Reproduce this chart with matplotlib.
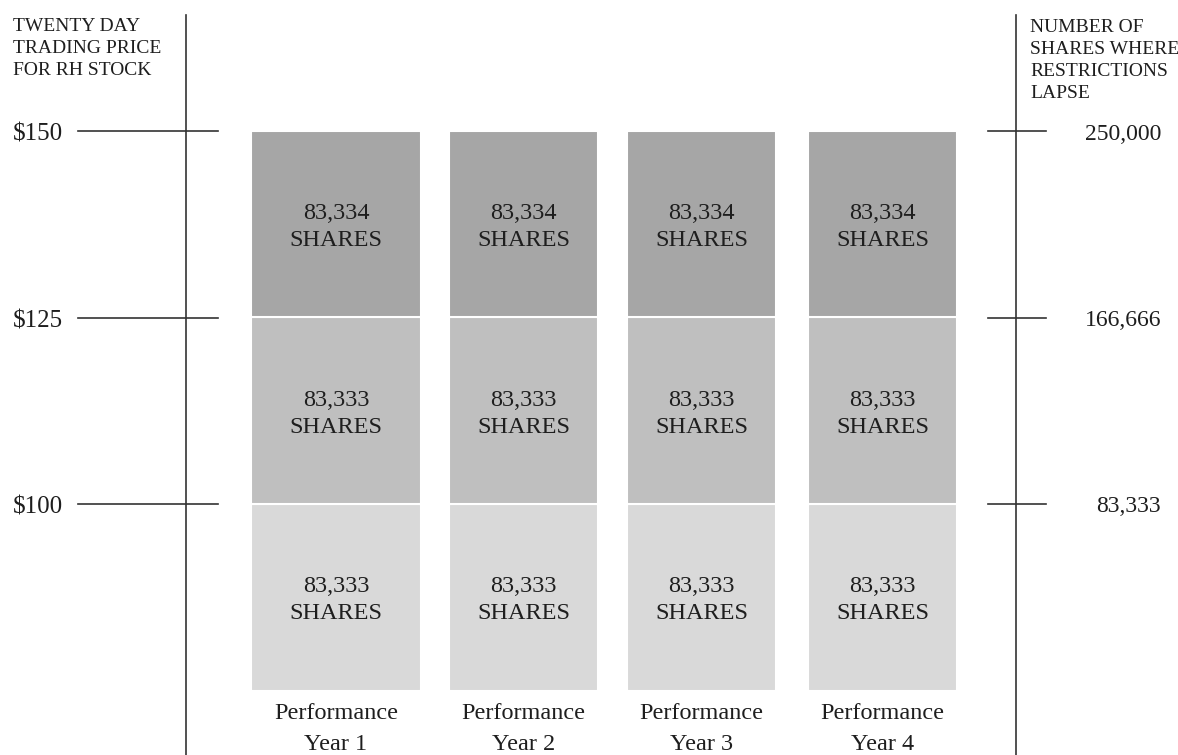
import matplotlib.pyplot as plt

plt.rcParams['font.family'] = ['Liberation Serif', 'DejaVu Serif']

# chart data
years = ['Performance\nYear 1', 'Performance\nYear 2', 'Performance\nYear 3', 'Performance\nYear 4']
price_levels = [100, 125, 150]
price_labels = ['$100', '$125', '$150']
share_labels = ['83,333', '166,666', '250,000']
tier_shares = ['83,333', '83,333', '83,334']
base_price = 75

# layout (pixel units along x)
bar_centers = [336, 523.5, 701.5, 882.5]
bar_widths = [170, 149, 149, 149]
tier_colors = ['#d9d9d9', '#bfbfbf', '#a6a6a6']
line_col = '#333333'
txt_col = '#1e1e1e'

fig = plt.figure(figsize=(11.78, 7.55), dpi=100)
ax = fig.add_axes([0, 0, 1, 1])
ax.set_xlim(0, 1178)
# map pixel rows: y=131 -> 150, y=504 -> 100
ppd = (504 - 131) / 50.0
ymax = 150 + 131 / ppd
ax.set_ylim(100 - (755 - 504) / ppd, ymax)
ax.axis('off')


def py(pix):
    # pixel row -> price units
    return ymax - pix / ppd


off = 3 / ppd  # text sits a bit low in the original

# stacked bars
lo = base_price
for i, hi in enumerate(price_levels):
    ax.bar(bar_centers, hi - lo, width=bar_widths, bottom=lo,
           color=tier_colors[i], edgecolor='white', linewidth=1.5)
    for xc in bar_centers:
        ax.text(xc, (lo + hi) / 2 - off, tier_shares[i] + '\nSHARES', ha='center', va='center',
                fontsize=17.5, color=txt_col, linespacing=1.38)
    lo = hi

# axes lines
bottom = ax.get_ylim()[0]
left_x, right_x = 186, 1016
ax.plot([left_x, left_x], [bottom, py(15)], color=line_col, lw=1.2)
ax.plot([right_x, right_x], [bottom, py(15)], color=line_col, lw=1.2)

for p, pl, sl in zip(price_levels, price_labels, share_labels):
    ax.plot([78, 218], [p, p], color=line_col, lw=1.2)
    ax.plot([988, 1046], [p, p], color=line_col, lw=1.2)
    ax.text(13, p - 1.3 * off, pl, ha='left', va='center', fontsize=18, color=txt_col)
    ax.text(1161, p - off, sl, ha='right', va='center', fontsize=17, color=txt_col)

ax.text(13, py(18), 'TWENTY DAY\nTRADING PRICE\nFOR RH STOCK', ha='left', va='top',
        fontsize=14, color=txt_col, linespacing=1.38)
ax.text(1030, py(19), 'NUMBER OF\nSHARES WHERE\nRESTRICTIONS\nLAPSE', ha='left', va='top',
        fontsize=14, color=txt_col, linespacing=1.38)

# bottom labels
for xc, lab in zip(bar_centers, years):
    ax.text(xc, py(729), lab, ha='center', va='center',
            fontsize=17.5, color=txt_col, linespacing=1.6)

fig.savefig('out.png', dpi=100)
